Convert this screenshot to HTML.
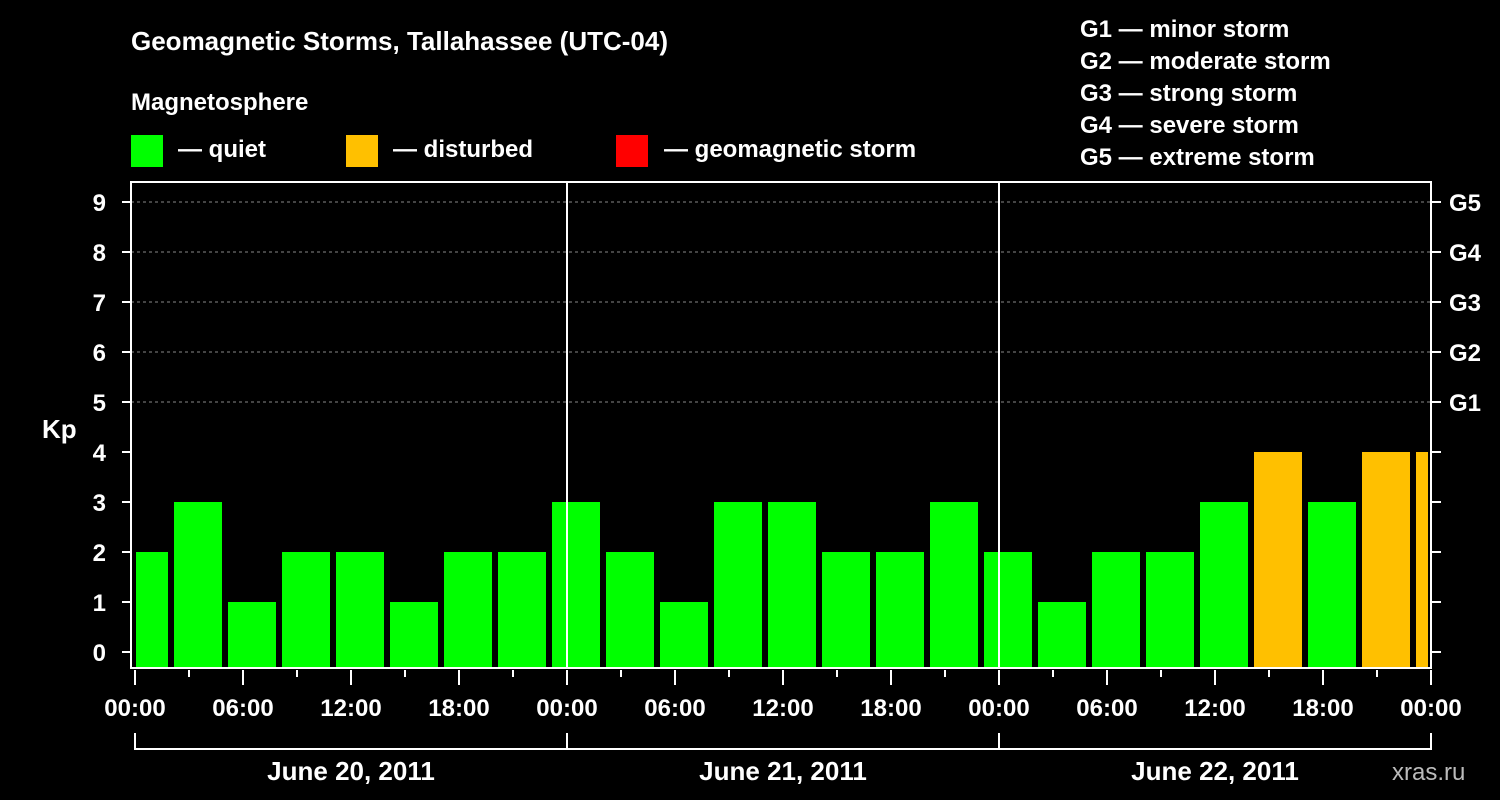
<!DOCTYPE html>
<html><head><meta charset="utf-8"><style>
body{margin:0;background:#000;width:1500px;height:800px;overflow:hidden}
svg{display:block}
text{font-family:"Liberation Sans",Arial,sans-serif;font-weight:bold;fill:#fff}
</style></head><body>
<svg id="chart" width="1500" height="800" viewBox="0 0 1500 800">
<rect width="1500" height="800" fill="#000"/>
<text x="131" y="50" font-size="26">Geomagnetic Storms, Tallahassee (UTC-04)</text>
<text x="131" y="110" font-size="24">Magnetosphere</text>
<g><rect x="131" y="135" width="32" height="32" fill="#00ff00"/><text x="178" y="157" font-size="24">— quiet</text></g>
<g><rect x="346" y="135" width="32" height="32" fill="#ffc000"/><text x="393" y="157" font-size="24">— disturbed</text></g>
<g><rect x="616" y="135" width="32" height="32" fill="#ff0000"/><text x="664" y="157" font-size="24">— geomagnetic storm</text></g>
<g font-size="24">
<text x="1080" y="37">G1 — minor storm</text>
<text x="1080" y="69">G2 — moderate storm</text>
<text x="1080" y="101">G3 — strong storm</text>
<text x="1080" y="133">G4 — severe storm</text>
<text x="1080" y="165">G5 — extreme storm</text>
</g>
<text x="42" y="438" font-size="26">Kp</text>
<text x="1392" y="780" font-size="24" fill="#ccc" style="fill:#bbb;font-weight:normal">xras.ru</text>
<g id="grid"></g>
<g id="bars"></g>
<g id="axes"></g>
</svg>
<script>
const kpValues=[2,3,1,2,2,1,2,2,3,2,1,3,3,2,2,3,2,1,2,2,3,4,3,4,4];
const binStartHours=[-1,2,5,8,11,14,17,20,23,26,29,32,35,38,41,44,47,50,53,56,59,62,65,68,71];
const yTicks=[0,1,2,3,4,5,6,7,8,9];
const gLabels=["G1","G2","G3","G4","G5"];
const gLevels=[5,6,7,8,9];
const xTickLabels=["00:00","06:00","12:00","18:00","00:00","06:00","12:00","18:00","00:00","06:00","12:00","18:00","00:00"];
const dayLabels=["June 20, 2011","June 21, 2011","June 22, 2011"];
const NS="http://www.w3.org/2000/svg";
const L=131,R=1431,T=182,B=668;
const x=h=>135+h*18;
const y=v=>652-v*50;
function mk(tag,attrs,parent,txt){const e=document.createElementNS(NS,tag);for(const k in attrs)e.setAttribute(k,attrs[k]);if(txt!==undefined)e.textContent=txt;parent.appendChild(e);return e;}
const grid=document.getElementById('grid'),bars=document.getElementById('bars'),axes=document.getElementById('axes');
gLevels.forEach((lv,i)=>{
 const ln=mk('line',{x1:L,x2:R,y1:y(lv),y2:y(lv),stroke:'#888','stroke-dasharray':'3,3','stroke-width':1},grid);
 
 
 const t=mk('text',{x:1449,y:y(lv)+9,'font-size':24},axes,gLabels[i]);
 
 
});
kpValues.forEach((v,i)=>{
 let x0=x(binStartHours[i])+3,x1=x(binStartHours[i]+3)-3;
 x0=Math.max(x0,136);x1=Math.min(x1,1428);
 const r=mk('rect',{x:x0,y:y(v),width:x1-x0,height:B-y(v),fill:v>=5?'#ff0000':(v>=4?'#ffc000':'#00ff00')},bars);
 
 
});
[1,2].forEach(d=>{const ln=mk('line',{x1:x(24*d),x2:x(24*d),y1:T,y2:B,stroke:'#fff','stroke-width':2},axes);
 
 });
const fr=mk('rect',{x:L,y:T,width:R-L,height:B-T,fill:'none',stroke:'#fff','stroke-width':2},axes);


yTicks.forEach(v=>{
 mk('line',{x1:122,x2:L,y1:y(v),y2:y(v),stroke:'#fff','stroke-width':2},axes);
 mk('line',{x1:R,x2:1441,y1:y(v),y2:y(v),stroke:'#fff','stroke-width':2},axes);
 const t=mk('text',{x:106,y:y(v)+9,'font-size':24,'text-anchor':'end'},axes,String(v));
 
 
});
for(let h=0;h<=72;h+=3){
 const major=h%6===0;
 mk('line',{x1:x(h),x2:x(h),y1:670,y2:major?685:677,stroke:'#fff','stroke-width':2},axes);
}
xTickLabels.forEach((s,i)=>{
 const t=mk('text',{x:x(i*6),y:716,'font-size':24,'text-anchor':'middle'},axes,s);
 
 
});
dayLabels.forEach((s,d)=>{
 const p=mk('path',{d:`M${x(24*d)} 733V749H${x(24*d+24)}V733`,fill:'none',stroke:'#fff','stroke-width':2},axes);
 
 
 const t=mk('text',{x:x(24*d+12),y:780,'font-size':26,'text-anchor':'middle'},axes,s);
 
 
});
</script>
</body></html>
